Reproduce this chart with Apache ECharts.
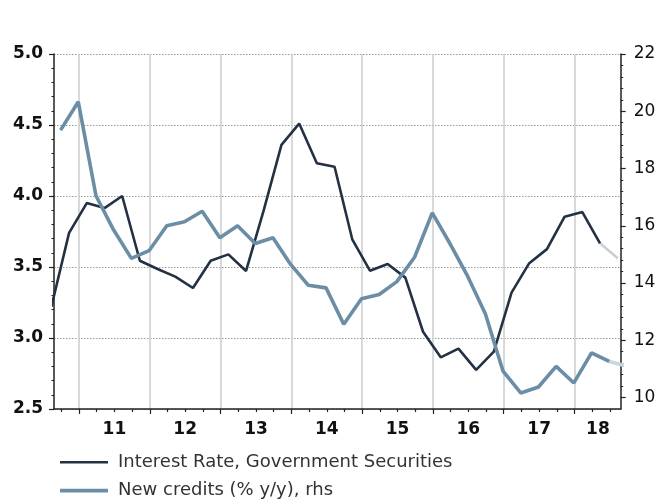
<!DOCTYPE html>
<html>
<head>
<meta charset="utf-8">
<script src="https://cdn.jsdelivr.net/npm/echarts@6/dist/echarts.min.js"></script>
<style>
html,body{margin:0;padding:0;background:#fff;}
#chart{width:661px;height:504px;}
</style>
</head>
<body>
<div id="chart"></div>
<script>
// ---- data ----
const rateName = 'Interest Rate, Government Securities';
const creditName = 'New credits (% y/y), rhs';

// dates in fractional years; the last point of each series is the light "projection" segment
const rateDates = [2010.61, 2010.86, 2011.11, 2011.36, 2011.61, 2011.86, 2012.11, 2012.36, 2012.61, 2012.86,
  2013.11, 2013.36, 2013.61, 2013.86, 2014.11, 2014.36, 2014.61, 2014.86, 2015.11, 2015.36,
  2015.61, 2015.86, 2016.11, 2016.36, 2016.61, 2016.86, 2017.11, 2017.36, 2017.61, 2017.86,
  2018.11, 2018.36, 2018.61];
const rateValues = [3.22, 3.74, 3.95, 3.915, 4.0, 3.544, 3.486, 3.432, 3.352, 3.544,
  3.589, 3.472, 3.90, 4.36, 4.51, 4.23, 4.206, 3.695, 3.474, 3.521,
  3.425, 3.044, 2.864, 2.925, 2.775, 2.904, 3.32, 3.527, 3.626, 3.854,
  3.887, 3.667, 3.561];

const creditDates = [2010.74, 2010.99, 2011.24, 2011.49, 2011.74, 2011.99, 2012.24, 2012.49, 2012.74, 2012.99,
  2013.24, 2013.49, 2013.74, 2013.99, 2014.24, 2014.49, 2014.74, 2014.99, 2015.24, 2015.49,
  2015.74, 2015.99, 2016.24, 2016.49, 2016.74, 2016.99, 2017.24, 2017.49, 2017.74, 2017.99,
  2018.24, 2018.49, 2018.74];
const creditValues = [19.34, 20.33, 17.05, 15.85, 14.86, 15.13, 16.0, 16.14, 16.51, 15.58,
  16.0, 15.38, 15.58, 14.65, 13.92, 13.83, 12.56, 13.45, 13.6, 14.05,
  14.9, 16.45, 15.38, 14.24, 12.93, 10.92, 10.16, 10.37, 11.09, 10.51,
  11.56, 11.26, 11.1];

// axis ticks / labels
const yearLines = [2011, 2012, 2013, 2014, 2015, 2016, 2017, 2018];
const quarterTicks = [2010.75, 2011.25, 2011.5, 2011.75, 2012.25, 2012.5, 2012.75, 2013.25, 2013.5, 2013.75,
  2014.25, 2014.5, 2014.75, 2015.25, 2015.5, 2015.75, 2016.25, 2016.5, 2016.75, 2017.25, 2017.5, 2017.75,
  2018.25, 2018.5];
const yearLabelPos = [2011.5, 2012.5, 2013.5, 2014.5, 2015.5, 2016.5, 2017.5, 2018.33];
const rightMajor = [10, 12, 14, 16, 18, 20, 22];
const rightMinor = [];
for (let i = 1; i < 30; i++) { const v = Math.round((10 + i * 0.4) * 10) / 10; if (v % 2 !== 0) rightMinor.push(v); }

const xMin = 2010.647, xMax = 2018.652;
const leftMin = 2.5, leftMax = 5.0, rightMin = 9.6, rightMax = 22;

const pairs = (d, v) => d.map((t, i) => [t, v[i]]);
const rateAll = pairs(rateDates, rateValues);
const creditAll = pairs(creditDates, creditValues);

const rateColor = '#233142', creditColor = '#6b8ea6';
const axisColor = '#222';
const labelFont = { fontFamily: 'DejaVu Sans', fontSize: 17, fontWeight: 'bold', color: '#111' };
const legendText = { fontFamily: 'DejaVu Sans', fontSize: 18, color: '#333', lineHeight: 20, padding: [0, 0, 0, 5] };

const chart = echarts.init(document.getElementById('chart'), null, { renderer: 'canvas' });
chart.setOption({
  animation: false,
  backgroundColor: '#fff',
  grid: { left: 54, right: 40.3, top: 54, bottom: 95, containLabel: false },
  legend: [
    {
      data: [{ name: rateName, icon: 'rect', itemStyle: { color: rateColor } }],
      left: 60, top: 452.3, padding: 0, itemWidth: 48, itemHeight: 2.6,
      textStyle: legendText, selectedMode: false
    },
    {
      data: [{ name: creditName, icon: 'rect', itemStyle: { color: creditColor } }],
      left: 60, top: 480.7, padding: 0, itemWidth: 48, itemHeight: 3.8,
      textStyle: legendText, selectedMode: false
    }
  ],
  xAxis: [
    {
      type: 'value', min: xMin, max: xMax, position: 'bottom',
      axisLine: { show: true, onZero: false, lineStyle: { color: axisColor, width: 1.5 } },
      axisTick: { show: true, customValues: quarterTicks, length: 3, lineStyle: { color: axisColor, width: 1.2 } },
      axisLabel: Object.assign({ show: true, customValues: yearLabelPos, margin: 12,
        formatter: v => String(Math.floor(v) - 2000) }, labelFont),
      splitLine: { show: false }
    },
    {
      type: 'value', min: xMin, max: xMax, position: 'bottom',
      axisLine: { show: false },
      axisTick: { show: true, customValues: yearLines, length: 5, lineStyle: { color: axisColor, width: 1.2 } },
      axisLabel: { show: false },
      splitLine: { show: true, lineStyle: { color: '#cdcdcd', width: 1.5, type: 'solid' } }
    }
  ],
  yAxis: [
    {
      type: 'value', min: leftMin, max: leftMax, interval: 0.5, position: 'left',
      axisLine: { show: true, lineStyle: { color: axisColor, width: 1.5 } },
      axisTick: { show: true, length: 5, lineStyle: { color: axisColor, width: 1.2 } },
      minorTick: { show: true, splitNumber: 5, length: 2.5, lineStyle: { color: axisColor, width: 1 } },
      axisLabel: Object.assign({ margin: 11, formatter: v => v.toFixed(1) }, labelFont),
      splitLine: { show: true, lineStyle: { color: '#999', width: 1, type: [1.5, 1.5] } }
    },
    {
      type: 'value', min: rightMin, max: rightMax, position: 'right',
      axisLine: { show: true, lineStyle: { color: axisColor, width: 1.5 } },
      axisTick: { show: true, customValues: rightMajor, length: 5, lineStyle: { color: axisColor, width: 1.2 } },
      axisLabel: { show: true, customValues: rightMajor, margin: 13, fontFamily: 'DejaVu Sans', fontSize: 17, color: '#111' },
      splitLine: { show: false }
    },
    {
      type: 'value', min: rightMin, max: rightMax, position: 'right',
      axisLine: { show: false },
      axisTick: { show: true, customValues: rightMinor, length: 2.5, lineStyle: { color: axisColor, width: 1 } },
      axisLabel: { show: false },
      splitLine: { show: false }
    }
  ],
  series: [
    {
      name: rateName, type: 'line', xAxisIndex: 0, yAxisIndex: 0,
      data: rateAll.slice(0, -1), symbol: 'none', clip: true,
      lineStyle: { color: rateColor, width: 2.6 }, itemStyle: { color: rateColor }, z: 3
    },
    {
      name: 'rate-projection', type: 'line', xAxisIndex: 0, yAxisIndex: 0,
      data: rateAll.slice(-2), symbol: 'none', clip: true,
      lineStyle: { color: '#c9cfd6', width: 2.6 }, z: 2
    },
    {
      name: creditName, type: 'line', xAxisIndex: 0, yAxisIndex: 1,
      data: creditAll.slice(0, -1), symbol: 'none', clip: true,
      lineStyle: { color: creditColor, width: 3.6 }, itemStyle: { color: creditColor }, z: 4
    },
    {
      name: 'credit-projection', type: 'line', xAxisIndex: 0, yAxisIndex: 1,
      data: creditAll.slice(-2), symbol: 'none', clip: true,
      lineStyle: { color: '#c8d6e0', width: 3.6 }, z: 2
    }
  ]
});
</script>
</body>
</html>
